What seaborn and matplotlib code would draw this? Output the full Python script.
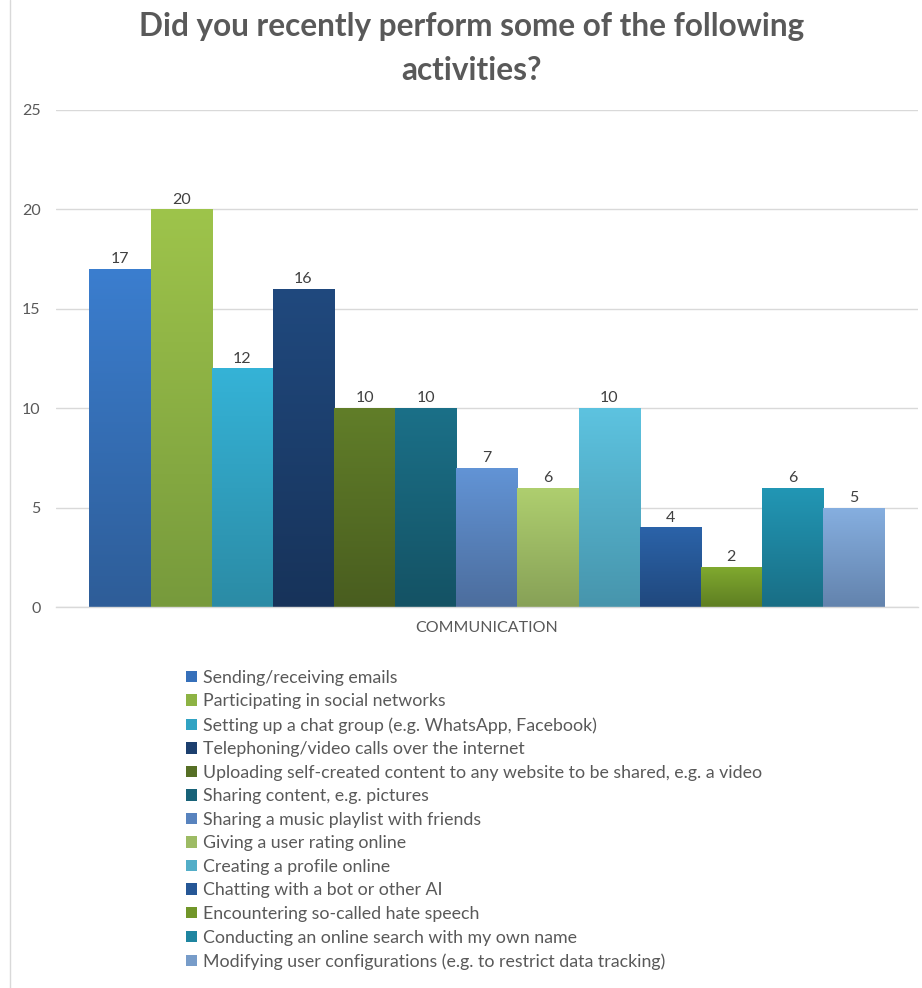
import numpy as np
import pandas as pd
import matplotlib
matplotlib.use("Agg")
import matplotlib.pyplot as plt
from matplotlib.colors import LinearSegmentedColormap
from matplotlib.lines import Line2D
from matplotlib.patches import Patch
import seaborn as sns

title = "Did you recently perform some of the following\nactivities?"
category = "COMMUNICATION"
activities = [
    "Sending/receiving emails",
    "Participating in social networks",
    "Setting up a chat group (e.g. WhatsApp, Facebook)",
    "Telephoning/video calls over the internet",
    "Uploading self-created content to any website to be shared, e.g. a video",
    "Sharing content, e.g. pictures",
    "Sharing a music playlist with friends",
    "Giving a user rating online",
    "Creating a profile online",
    "Chatting with a bot or other AI",
    "Encountering so-called hate speech",
    "Conducting an online search with my own name",
    "Modifying user configurations (e.g. to restrict data tracking)",
]
counts = [17, 20, 12, 16, 10, 10, 7, 6, 10, 4, 2, 6, 5]
yticks = [0, 5, 10, 15, 20, 25]

# gradient colours per bar (top -> bottom)
top_colors = ["#3B7ECF", "#9EC44B", "#35B3D7", "#20497E", "#617E29", "#1B7088",
              "#6294D6", "#AFCF6F", "#5DC3E0", "#2B63A9", "#80A92F", "#2297B5", "#86AFE0"]
bottom_colors = ["#2E5D98", "#779A3C", "#2B8BA5", "#17335A", "#495D1F", "#145264",
                 "#4C6D9D", "#87A157", "#4795AC", "#20487D", "#5E7E22", "#196E85", "#6383AD"]
mid_colors = ["#3670BA", "#8DB344", "#31A3C3", "#1C3F6E", "#566F25", "#186278",
              "#5883BE", "#9DBB64", "#53AEC8", "#265796", "#719629", "#1F85A0", "#779CC9"]

df = pd.DataFrame({"category": [category] * len(activities),
                   "activity": activities,
                   "count": counts})

sns.set_theme(style="white")
plt.rcParams["font.family"] = ["Lato", "DejaVu Sans"]

fig = plt.figure(figsize=(9.22, 9.88), dpi=100)
ax = fig.add_axes([0.0605, 0.3856, 0.935, 0.5031])

sns.barplot(data=df, x="category", y="count", hue="activity",
            hue_order=activities, palette=mid_colors, width=0.922,
            ax=ax, legend=False, edgecolor="#FFFFFF", linewidth=0.6,
            saturation=1)

# vertical gradient fill for every bar
grad = np.linspace(0, 1, 256).reshape(-1, 1)
for cont, ctop, cbot in zip(ax.containers, top_colors, bottom_colors):
    cmap = LinearSegmentedColormap.from_list("g", [cbot, ctop])
    for bar in cont:
        x0, y0 = bar.get_x(), bar.get_y()
        w, h = bar.get_width(), bar.get_height()
        im = ax.imshow(grad, cmap=cmap, origin="lower", aspect="auto",
                       extent=[x0, x0 + w, y0, y0 + h], zorder=bar.get_zorder() + 0.1)
        im.set_clip_path(bar)
    ax.bar_label(cont, padding=2, fontsize=11.5, color="#404040")

ax.set_xlim(-0.5, 0.5)
ax.set_ylim(0, 25)
ax.set_yticks(yticks)
ax.set_yticklabels([str(t) for t in yticks], fontsize=11.5, color="#595959")
ax.tick_params(axis="y", length=0, pad=11)
ax.tick_params(axis="x", length=0, pad=10, labelsize=11.5, labelcolor="#595959")
ax.set_xlabel("")
ax.set_ylabel("")
ax.yaxis.grid(True, color="#D9D9D9", linewidth=1)
ax.set_axisbelow(True)
for s in ["top", "right", "left"]:
    ax.spines[s].set_visible(False)
ax.spines["bottom"].set_color("#D9D9D9")
ax.spines["bottom"].set_linewidth(1)

fig.text(0.511, 0.988, title, ha="center", va="top", fontsize=22.7,
         fontweight="bold", color="#595959", linespacing=1.62)

handles = [Patch(facecolor=c, edgecolor="none") for c in mid_colors]
fig.legend(handles, activities, loc="upper left", bbox_to_anchor=(0.202, 0.322),
           frameon=False, fontsize=12.8, labelcolor="#595959",
           handlelength=0.62, handleheight=0.62, handletextpad=0.3,
           labelspacing=0.425, borderaxespad=0, borderpad=0)

# left frame edge of the chart area
fig.add_artist(Line2D([0.011, 0.011], [0, 1], transform=fig.transFigure,
                      color="#D9D9D9", linewidth=1))

fig.savefig("out.png", dpi=100)
